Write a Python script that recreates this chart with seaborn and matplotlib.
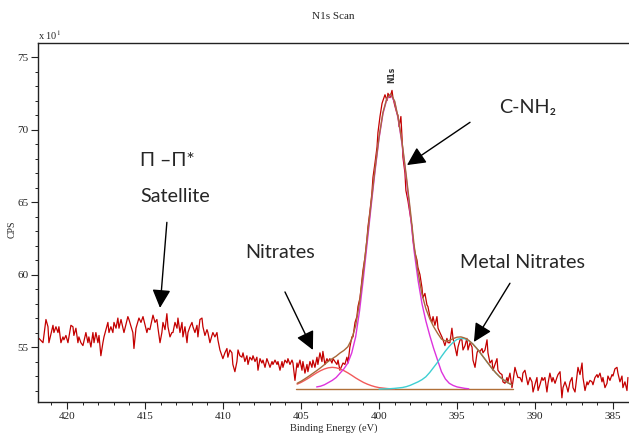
import matplotlib
matplotlib.use("Agg")
import matplotlib.pyplot as plt
from matplotlib.ticker import MultipleLocator
import seaborn as sns

# ---------------- data ----------------
binding_energy = [
    421.80, 421.54, 421.35, 421.22, 421.16, 420.90, 420.84, 420.71, 420.58, 420.52,
    420.39, 420.26, 420.20, 420.07, 419.94, 419.75, 419.62, 419.56, 419.43, 419.30,
    419.24, 419.11, 418.98, 418.79, 418.66, 418.60, 418.47, 418.34, 418.27, 418.15,
    418.02, 417.95, 417.83, 417.70, 417.63, 417.38, 417.31, 417.19, 417.06, 416.99,
    416.86, 416.74, 416.67, 416.54, 416.35, 416.10, 416.03, 415.78, 415.71, 415.58,
    415.39, 415.26, 415.13,
    414.88, 414.81, 414.69, 414.49, 414.36, 414.24, 414.17, 414.04, 413.92, 413.85,
    413.72, 413.60, 413.53, 413.40, 413.28, 413.21, 413.08, 412.95, 412.89, 412.76,
    412.63, 412.57, 412.44, 412.31, 412.25, 412.12, 411.99, 411.93, 411.80, 411.67,
    411.61, 411.48, 411.35, 411.29, 411.16, 411.03, 410.97, 410.84, 410.71, 410.65,
    410.52, 410.39, 410.33, 410.20, 410.07, 410.01, 409.88, 409.75, 409.69, 409.56,
    409.43, 409.37, 409.24, 409.11, 409.04, 408.92,
    408.79, 408.72, 408.60, 408.47, 408.40, 408.28, 408.15, 408.08, 407.95, 407.83,
    407.76, 407.63, 407.51, 407.44, 407.31, 407.19, 407.12, 406.99, 406.86, 406.80,
    406.67, 406.54, 406.48, 406.35, 406.22, 406.16, 406.03, 405.90, 405.84, 405.71,
    405.58, 405.52, 405.39, 405.26, 405.20, 405.07, 404.94, 404.88, 404.75, 404.62,
    404.56, 404.43, 404.30, 404.24, 404.11, 403.98, 403.92, 403.79, 403.66, 403.60,
    403.47, 403.34, 403.27, 403.15, 403.02, 402.95, 402.83, 402.70, 402.63,
    402.51, 402.31, 402.19, 402.06, 401.99, 401.87, 401.74, 401.67, 401.54, 401.42,
    401.35, 401.22, 401.10, 401.03, 400.90, 400.78, 400.71, 400.58, 400.46, 400.39,
    400.26, 400.13, 400.07, 399.94, 399.81, 399.75, 399.62, 399.49, 399.43, 399.30,
    399.17, 399.11, 398.98, 398.85, 398.79, 398.72, 398.60, 398.53, 398.47, 398.34,
    398.28, 398.15, 398.02, 397.89, 397.83, 397.70, 397.57, 397.51,
    397.38, 397.25, 397.19, 397.06, 396.93, 396.87, 396.74, 396.61, 396.54, 396.42,
    396.29, 396.22, 396.10, 395.97, 395.90, 395.78, 395.65, 395.58, 395.46, 395.33,
    395.26, 395.13, 395.01, 394.94, 394.81, 394.69, 394.62, 394.49, 394.37, 394.30,
    394.17, 394.04, 393.98, 393.85, 393.72, 393.66, 393.53, 393.40, 393.34, 393.21,
    393.08, 393.02, 392.89, 392.76, 392.70, 392.57, 392.44, 392.38, 392.25, 392.12,
    392.06, 391.93, 391.80, 391.74, 391.61, 391.48, 391.42, 391.29, 391.16, 391.10,
    390.97, 390.84, 390.78, 390.65, 390.52, 390.46, 390.33, 390.20, 390.13, 390.01,
    389.88, 389.81, 389.69, 389.56, 389.49, 389.37, 389.24, 389.17, 389.05, 388.92,
    388.85, 388.72, 388.60, 388.53, 388.40, 388.28, 388.21, 388.08, 387.96, 387.89,
    387.76, 387.63, 387.57, 387.44, 387.31, 387.25, 387.12, 386.99, 386.93, 386.80,
    386.67, 386.61, 386.48, 386.35, 386.29, 386.16, 386.03, 385.97, 385.84, 385.71,
    385.65, 385.52, 385.39, 385.33, 385.20, 385.07, 385.01, 384.88, 384.75, 384.69,
    384.56, 384.43, 384.37, 384.24, 384.11, 384.05,
]
cps = [
    55.6, 55.3, 56.9, 56.4, 55.3, 56.5, 56.0, 56.4, 56.0, 56.4,
    55.3, 55.7, 55.5, 55.8, 55.3, 56.5, 56.4, 55.8, 56.3, 55.3,
    55.7, 55.3, 55.1, 56.0, 55.3, 55.7, 55.0, 56.0, 55.3, 56.0,
    55.3, 55.8, 54.4, 55.3, 55.7, 56.7, 56.0, 56.4, 56.0, 56.7,
    56.3, 57.0, 56.3, 56.9, 56.0, 57.1, 56.9, 56.0, 54.9, 56.3,
    57.0, 56.7, 57.1,
    56.0, 56.3, 56.2, 57.2, 56.7, 56.9, 56.3, 55.3, 56.0, 56.7,
    56.2, 57.3, 56.4, 55.7, 56.0, 56.0, 56.7, 56.3, 57.0, 56.0,
    56.7, 55.7, 56.4, 55.3, 56.0, 56.4, 56.7, 56.4, 56.0, 56.5,
    55.7, 56.9, 57.0, 56.4, 55.8, 56.2, 56.0, 55.3, 55.8, 56.0,
    55.7, 56.0, 55.5, 54.8, 54.4, 54.2, 54.6, 54.9, 54.3, 54.8,
    54.6, 53.8, 53.3, 54.0, 54.8, 54.4,
    54.3, 54.6, 54.0, 54.4, 53.8, 54.3, 54.1, 54.4, 54.0, 54.3,
    53.4, 54.2, 53.9, 54.1, 53.6, 54.2, 54.0, 53.6, 54.0, 53.8,
    54.1, 53.8, 54.0, 53.4, 54.0, 53.6, 54.1, 53.9, 54.2, 53.8,
    54.1, 53.9, 52.7, 53.9, 53.6, 54.1, 53.4, 54.0, 53.2, 53.8,
    53.3, 54.0, 53.6, 54.1, 53.6, 54.3, 53.8, 54.6, 54.0, 54.7,
    53.8, 54.2, 54.0, 54.2, 53.9, 54.2, 54.0, 53.8, 54.1,
    53.4, 53.9, 53.8, 54.3, 53.9, 55.0, 55.7, 55.7, 56.7, 57.1,
    57.8, 58.4, 59.6, 60.3, 61.2, 62.4, 63.3, 64.4, 65.6, 66.7,
    67.7, 68.8, 69.8, 70.9, 71.8, 72.0, 72.4, 72.0, 72.5, 72.2,
    72.7, 72.2, 71.6, 71.1, 71.0, 70.2, 70.9, 69.5, 68.1, 67.0,
    65.8, 65.1, 64.2, 63.3, 62.4, 61.5, 61.0, 60.5,
    60.0, 59.1, 58.4, 58.7, 57.9, 57.8, 57.1, 56.7, 57.1, 56.5,
    57.1, 56.3, 56.0, 55.7, 55.5, 55.1, 55.6, 55.3, 55.3, 56.3,
    55.6, 55.0, 54.4, 55.0, 55.5, 55.5, 54.8, 55.1, 55.6, 54.8,
    55.3, 55.0, 54.1, 53.6, 54.6, 54.8, 54.7, 54.9, 54.6, 54.8,
    55.5, 54.6, 53.9, 54.1, 53.4, 53.8, 54.2, 53.4, 53.2, 53.1,
    52.6, 52.5, 52.9, 52.6, 53.2, 52.2, 52.6, 53.6, 53.1, 52.9,
    52.9, 52.6, 53.2, 53.4, 52.7, 52.4, 52.9, 52.6, 51.9, 52.4,
    52.9, 52.0, 52.4, 52.9, 52.7, 52.9, 51.9, 52.5, 53.2, 52.6,
    52.9, 52.5, 52.9, 53.1, 53.3, 51.5, 52.2, 52.6, 52.2, 51.9,
    52.6, 52.9, 52.2, 51.9, 53.1, 53.6, 53.1, 53.9, 52.9, 52.0,
    52.6, 52.4, 52.7, 52.6, 52.4, 52.9, 53.1, 52.9, 53.2, 52.6,
    52.9, 52.2, 52.5, 53.0, 52.7, 53.1, 53.0, 53.5, 53.6, 53.2,
    52.6, 53.0, 52.2, 52.6, 52.0, 52.9,
]

# fitted components
nitrates_energy = [405.25, 405.0, 404.75, 404.5, 404.25, 404.0, 403.75, 403.5, 403.25, 403.0,
                   402.75, 402.5, 402.25, 402.0, 401.75, 401.5, 401.25, 401.0, 400.75,
                   400.5, 400.25, 400.0, 399.75, 399.5, 399.25, 399.0]
nitrates_cps = [52.44, 52.56, 52.71, 52.87, 53.05, 53.22, 53.37, 53.49, 53.57, 53.60,
                53.57, 53.49, 53.37, 53.22, 53.05, 52.87, 52.71, 52.56, 52.44,
                52.34, 52.26, 52.20, 52.17, 52.14, 52.12, 52.11]

cnh2_energy = [404.0, 403.75, 403.5, 403.25, 403.0, 402.75, 402.5, 402.25, 402.0, 401.75,
               401.5, 401.25, 401.0, 400.75, 400.5, 400.25, 400.0, 399.75, 399.5, 399.25,
               399.0, 398.75, 398.5, 398.25, 398.0, 397.75, 397.5, 397.25, 397.0, 396.75,
               396.5, 396.25, 396.0, 395.75, 395.5, 395.25, 395.0, 394.75, 394.5, 394.25]
cnh2_cps = [52.25, 52.3, 52.4, 52.55, 52.7, 52.9, 53.2, 53.5, 53.9, 54.6,
            55.7, 57.5, 59.8, 62.3, 64.8, 67.2, 69.4, 71.1, 72.1, 72.4,
            71.9, 70.6, 68.8, 66.6, 64.2, 61.6, 59.6, 58.0, 56.8, 55.8,
            54.9, 54.1, 53.3, 52.8, 52.5, 52.35, 52.25, 52.2, 52.15, 52.12]

metal_energy = [400.0, 399.75, 399.5, 399.25, 399.0, 398.75, 398.5, 398.25, 398.0, 397.75,
                397.5, 397.25, 397.0, 396.75, 396.5, 396.25, 396.0, 395.75, 395.5, 395.25,
                395.0, 394.75, 394.5, 394.25, 394.0, 393.75, 393.5, 393.25, 393.0, 392.75,
                392.5, 392.25, 392.0, 391.75, 391.5]
metal_cps = [52.10, 52.11, 52.12, 52.13, 52.15, 52.18, 52.21, 52.27, 52.36, 52.48,
             52.60, 52.75, 52.95, 53.25, 53.60, 53.95, 54.35, 54.72, 55.05, 55.33,
             55.53, 55.60, 55.57, 55.44, 55.22, 54.92, 54.58, 54.22, 53.86, 53.51,
             53.20, 52.93, 52.72, 52.54, 52.40]

envelope_energy = [405.25, 405.0, 404.75, 404.5, 404.25, 404.0, 403.75, 403.5, 403.25, 403.0,
                   402.75, 402.5, 402.25, 402.0, 401.75, 401.5, 401.25, 401.0, 400.75,
                   400.5, 400.25, 400.0, 399.75, 399.5, 399.25, 399.0, 398.75, 398.5, 398.25, 398.0,
                   397.75, 397.5, 397.25, 397.0, 396.75, 396.5, 396.25, 396.0, 395.75, 395.5, 395.25,
                   395.0, 394.75, 394.5, 394.25, 394.0, 393.75, 393.5, 393.25, 393.0,
                   392.75, 392.5, 392.25, 392.0, 391.75, 391.5]
envelope_cps = [52.50, 52.64, 52.81, 52.99, 53.18, 53.37, 53.57, 53.79, 54.02, 54.20,
                54.37, 54.59, 54.77, 55.02, 55.55, 56.47, 58.11, 60.26, 62.64,
                65.04, 67.36, 69.50, 71.18, 72.16, 72.46, 71.96, 70.68, 68.91, 66.77, 64.46,
                61.98, 60.14, 58.65, 57.65, 56.95, 56.40, 55.95, 55.55, 55.42, 55.45, 55.58,
                55.68, 55.70, 55.62, 55.46, 55.22, 54.92, 54.58, 54.22, 53.86,
                53.51, 53.20, 52.93, 52.72, 52.54, 52.40]

baseline_energy = [405.3, 391.4]
baseline_cps = [52.1, 52.1]

x_ticks = [420, 415, 410, 405, 400, 395, 390, 385]
y_ticks = [55, 60, 65, 70, 75]

# annotation texts (text, position) and arrows (tail, head), data units
labels = [
    ("\u03a0 \u2013\u03a0*", (415.33, 67.9)),
    ("Satellite", (415.33, 65.4)),
    ("Nitrates", (408.6, 61.5)),
    ("C-NH\u2082", (392.3, 71.5)),
    ("Metal Nitrates", (394.8, 60.8)),
]
arrows = [
    ((413.6, 63.6), (414.04, 57.7)),
    ((406.03, 58.8), (404.24, 54.8)),
    ((394.17, 70.5), (398.21, 67.55)),
    ((391.61, 59.4), (393.92, 55.35)),
]

# ---------------- figure ----------------
sns.set_style("ticks")
plt.rcParams["font.family"] = ["Liberation Serif", "DejaVu Serif"]
plt.rcParams["mathtext.fontset"] = "stix"

W, H = 629, 433
fig = plt.figure(figsize=(W / 100, H / 100), dpi=100)
ax = fig.add_axes([38 / W, 1 - 402 / H, 1 - 38 / W, (402 - 43) / H])

data_col = "#c40000"
sns.lineplot(x=binding_energy, y=cps, ax=ax, color=data_col, lw=0.9,
             estimator=None, sort=False, zorder=2)
sns.lineplot(x=baseline_energy, y=baseline_cps, ax=ax, color="#b07038", lw=1.0,
             estimator=None, sort=False, zorder=3)
sns.lineplot(x=nitrates_energy, y=nitrates_cps, ax=ax, color="#f25a5a", lw=1.0,
             estimator=None, sort=False, zorder=3)
sns.lineplot(x=cnh2_energy, y=cnh2_cps, ax=ax, color="#dd33dd", lw=1.0,
             estimator=None, sort=False, zorder=3)
sns.lineplot(x=metal_energy, y=metal_cps, ax=ax, color="#3ecfd2", lw=1.0,
             estimator=None, sort=False, zorder=3)
sns.lineplot(x=envelope_energy, y=envelope_cps, ax=ax, color="#a8683a", lw=1.0,
             estimator=None, sort=False, zorder=3)

ax.set_xlim(421.86, 383.98)
ax.set_ylim(51.21, 75.97)
ax.set_xticks(x_ticks)
ax.set_yticks(y_ticks)
ax.xaxis.set_minor_locator(MultipleLocator(1))
ax.yaxis.set_minor_locator(MultipleLocator(1))
ax.tick_params(which="major", direction="out", length=5, width=0.8,
               labelsize=8, colors="#222222", pad=2)
ax.tick_params(which="minor", direction="out", length=2.5, width=0.7, colors="#222222")
ax.spines["right"].set_visible(False)
for s in ("left", "top", "bottom"):
    ax.spines[s].set_linewidth(1.0)
    ax.spines[s].set_color("#222222")

ax.set_xlabel("Binding Energy (eV)", fontsize=7.5, labelpad=2)
ax.set_ylabel("CPS", fontsize=7)
ax.yaxis.set_label_coords(-21 / (W - 38), 0.48)
ax.set_title("N1s Scan", fontsize=8, pad=17)
ax.text(0.0, 1.003, "x 10$^1$", transform=ax.transAxes, fontsize=7.5,
        ha="left", va="bottom")

ax.text(399.17, 73.8, "N1s", rotation=90, fontsize=5.5, fontweight="bold",
        family=["DejaVu Sans"], color="#333333", ha="center", va="center")

for label, tpos in labels:
    ax.text(tpos[0], tpos[1], label, fontsize=14.2, family=["Lato", "DejaVu Sans"],
            ha="left", va="center", zorder=5)
for tail, head in arrows:
    ax.annotate("", xy=head, xytext=tail,
                arrowprops=dict(arrowstyle="-|>", color="black", lw=1.0,
                                mutation_scale=28, shrinkA=0, shrinkB=0),
                zorder=5)

fig.savefig("out.png", dpi=100)
